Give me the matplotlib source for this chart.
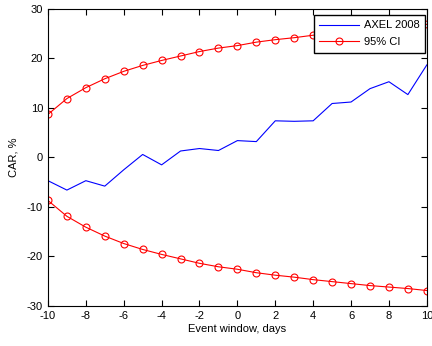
import numpy as np
import matplotlib
matplotlib.use("Agg")
import matplotlib.pyplot as plt

plt.rcParams['font.family'] = ['Liberation Sans', 'DejaVu Sans']
plt.rcParams['axes.unicode_minus'] = False

# fenetre d'evenement (jours)
days = list(range(-10, 11))
# CAR AXEL 2008 (%)
car_axel = [-4.7, -6.6, -4.7, -5.8, -2.5, 0.6, -1.5, 1.3, 1.8, 1.4, 3.4,
            3.2, 7.4, 7.3, 7.4, 10.9, 11.2, 13.9, 15.3, 12.7, 18.7]
# borne superieure de l'IC 95% (symetrique)
ci_upper = [8.7, 11.9, 14.1, 15.9, 17.4, 18.6, 19.6, 20.5, 21.4, 22.1, 22.6,
            23.3, 23.8, 24.2, 24.7, 25.1, 25.5, 25.9, 26.2, 26.5, 26.9]
ci_lower = [-v for v in ci_upper]

fig = plt.figure(figsize=(4.32, 3.46), dpi=100)
ax = fig.add_axes([0.111, 0.116, 0.877, 0.858])

ax.plot(days, car_axel, color='blue', lw=0.8, label='AXEL 2008')
ax.plot(days, ci_upper, color='red', lw=0.8, marker='o', ms=5,
        mfc='none', mec='red', mew=0.8, label='95% CI')
ax.plot(days, ci_lower, color='red', lw=0.8, marker='o', ms=5,
        mfc='none', mec='red', mew=0.8)

ax.set_xlim(-10, 10)
ax.set_ylim(-30, 30)
ax.set_xticks(range(-10, 11, 2))
ax.set_yticks(range(-30, 31, 10))
ax.tick_params(direction='in', top=True, right=True, labelsize=8, length=4, width=0.8)
for s in ax.spines.values():
    s.set_linewidth(0.8)
ax.set_xlabel('Event window, days', fontsize=8, labelpad=2)
ax.set_ylabel('CAR, %', fontsize=8, labelpad=6)

leg = ax.legend(loc='upper right', bbox_to_anchor=(0.995, 0.98), borderaxespad=0,
                fontsize=8, fancybox=False, framealpha=1, edgecolor='black',
                handlelength=3.6, handletextpad=0.4, labelspacing=0.6, borderpad=0.5)
leg.get_frame().set_linewidth(1.0)

fig.savefig('out.png', dpi=100)
